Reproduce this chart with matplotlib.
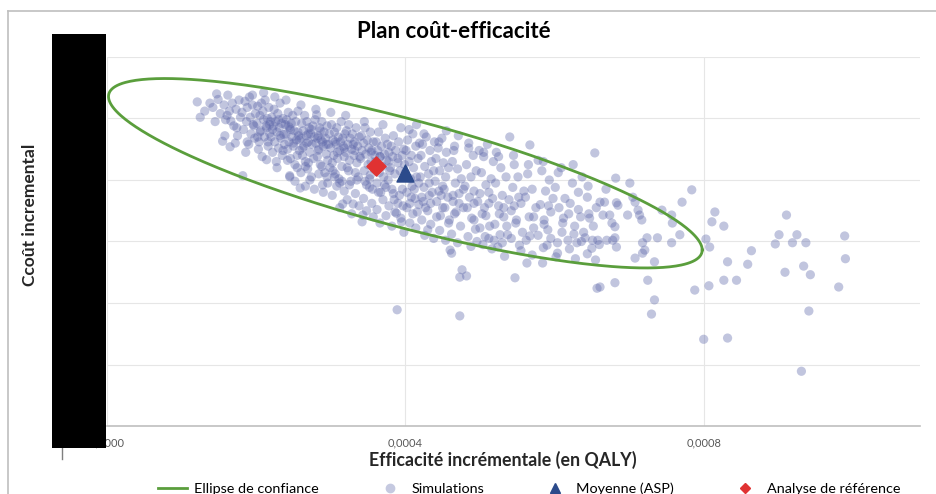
import numpy as np
import matplotlib
matplotlib.use("Agg")
import matplotlib.pyplot as plt
from matplotlib.lines import Line2D
from matplotlib.patches import Rectangle

plt.rcParams['font.family'] = ['Lato', 'DejaVu Sans']

title = "Plan coût-efficacité"
x_label = "Efficacité incrémentale (en QALY)"
y_label = "Ccoût incremental"
x_ticks = [0.0, 0.0004, 0.0008]
x_tick_labels = ["0,0000", "0,0004", "0,0008"]
y_grid = [1, 2, 3, 4, 5, 6]
legend_labels = ["Ellipse de confiance", "Simulations", "Moyenne (ASP)", "Analyse de référence"]

# simulations: incremental effect (in 1e-4 QALY) and incremental cost (hidden units)
sim_eff_e4 = [
    1.21, 1.25, 1.31, 1.38,
    1.42, 1.45, 1.49, 1.52, 1.55, 1.57, 1.59, 1.47,
    1.62, 1.65, 1.68, 1.61, 1.70, 1.73, 1.75, 1.77, 1.66, 1.79, 1.72, 1.64,
    1.81, 1.82, 1.85, 1.83, 1.87, 1.88, 1.90, 1.92, 1.93, 1.95, 1.96, 1.98, 1.99, 1.86, 1.91, 1.97,
    2.01, 2.02, 2.04, 2.05, 2.06, 2.08, 2.09, 2.10, 2.11, 2.12, 2.14, 2.14, 2.15, 2.16, 2.17, 2.18, 2.19, 2.03, 2.07, 2.13,
    2.20, 2.21, 2.22, 2.23, 2.24, 2.25, 2.26, 2.27, 2.28, 2.29, 2.30, 2.31, 2.32, 2.33, 2.34, 2.35, 2.36, 2.37, 2.38, 2.39, 2.22, 2.30,
    2.40, 2.41, 2.42, 2.43, 2.44, 2.45, 2.45, 2.46, 2.47, 2.48, 2.49, 2.50, 2.51, 2.52, 2.53, 2.54, 2.55, 2.56, 2.57, 2.58, 2.59, 2.43, 2.50, 2.56,
    2.60, 2.61, 2.62, 2.63, 2.64, 2.65, 2.66, 2.67, 2.68, 2.69, 2.70, 2.71, 2.72, 2.73, 2.74, 2.75, 2.76, 2.77, 2.78, 2.79, 2.62, 2.68, 2.74, 2.66,
    2.80, 2.81, 2.82, 2.83, 2.84, 2.85, 2.86, 2.87, 2.88, 2.89, 2.90, 2.91, 2.92, 2.93, 2.94, 2.95, 2.96, 2.97, 2.98, 2.99, 2.83, 2.89, 2.95, 2.86,
    3.00, 3.01, 3.02, 3.03, 3.04, 3.05, 3.06, 3.07, 3.08, 3.09, 3.10, 3.11, 3.12, 3.13, 3.14, 3.15, 3.16, 3.17, 3.18, 3.19, 3.03, 3.09, 3.16, 3.12,
    3.20, 3.21, 3.22, 3.23, 3.24, 3.25, 3.26, 3.27, 3.28, 3.29, 3.30, 3.31, 3.32, 3.33, 3.34, 3.35, 3.36, 3.37, 3.38, 3.39, 3.24, 3.32,
    3.40, 3.41, 3.42, 3.43, 3.44, 3.45, 3.46, 3.47, 3.48, 3.49, 3.50, 3.51, 3.52, 3.53, 3.54, 3.55, 3.56, 3.57, 3.58, 3.59, 3.45, 3.53,
    3.60, 3.61, 3.62, 3.63, 3.64, 3.65, 3.66, 3.67, 3.68, 3.69, 3.70, 3.71, 3.72, 3.73, 3.74, 3.75, 3.76, 3.77, 3.78, 3.79,
    3.80, 3.81, 3.82, 3.83, 3.84, 3.85, 3.86, 3.87, 3.88, 3.89, 3.90, 3.91, 3.92, 3.93, 3.94, 3.95, 3.96, 3.97, 3.98, 3.99,
    4.00, 4.01, 4.02, 4.03, 4.05, 4.06, 4.07, 4.08, 4.09, 4.10, 4.11, 4.13, 4.14, 4.15, 4.16, 4.17, 4.18, 4.19,
    4.20, 4.21, 4.22, 4.23, 4.25, 4.26, 4.27, 4.28, 4.30, 4.31, 4.32, 4.33, 4.34, 4.35, 4.36, 4.38, 4.39,
    4.40, 4.41, 4.42, 4.44, 4.45, 4.46, 4.47, 4.49, 4.50, 4.51, 4.53, 4.54, 4.55, 4.57, 4.58, 4.59,
    4.60, 4.62, 4.63, 4.64, 4.66, 4.67, 4.68, 4.70, 4.71, 4.72, 4.73, 4.73, 4.75, 4.76, 4.78,
    4.80, 4.82, 4.82, 4.83, 4.85, 4.86, 4.88, 4.89, 4.91, 4.92, 4.94, 4.95, 4.97, 4.99,
    5.00, 5.02, 5.03, 5.05, 5.07, 5.08, 5.10, 5.12, 5.13, 5.15, 5.17, 5.18, 5.19,
    5.21, 5.22, 5.24, 5.25, 5.27, 5.28, 5.30, 5.32, 5.33, 5.35, 5.37, 5.39,
    5.40, 5.42, 5.44, 5.46, 5.47, 5.49, 5.51, 5.53, 5.55, 5.57, 5.59,
    5.61, 5.63, 5.64, 5.66, 5.67, 5.67, 5.70, 5.72, 5.75, 5.78,
    5.81, 5.83, 5.84, 5.86, 5.88, 5.90, 5.91, 5.93, 5.95, 5.98,
    6.01, 6.04, 6.04, 6.06, 6.09, 6.11, 6.14, 6.18, 6.19,
    6.21, 6.24, 6.27, 6.30, 6.32, 6.35, 6.37, 6.39,
    6.41, 6.44, 6.47, 6.50, 6.51, 6.54, 6.56, 6.57, 6.58, 6.45,
    6.82, 7.01, 6.69, 6.61, 6.67, 6.83, 6.85, 7.05, 7.08, 7.12,
    7.14, 7.17, 6.98, 6.74, 6.65, 6.77, 6.81, 6.81, 6.70, 6.83,
    6.78, 7.44, 7.57, 7.58, 7.71, 7.84, 7.68, 7.24, 7.38, 7.57,
    7.18, 7.21, 7.18, 7.08, 7.34, 7.25, 6.81, 6.61, 7.88, 7.34,
    7.30, 8.03, 8.08, 8.15, 8.11, 8.27, 8.07, 8.32, 8.44, 8.27,
    8.64, 8.59, 8.00, 8.32, 9.11, 9.01, 9.25, 8.96, 9.19, 9.37,
    9.09, 9.34, 9.43, 9.81, 9.41, 9.31, 9.89, 9.90,
]
sim_cost = [
    5.27, 5.02, 5.12, 5.25,
    5.18, 4.95, 5.31, 5.08, 4.63, 5.22, 4.98, 5.40,
    5.38, 4.54, 5.25, 5.05, 4.88, 5.15, 4.72, 5.30, 4.96, 5.02, 4.60, 5.12,
    5.10, 4.07, 5.28, 4.82, 4.95, 5.18, 4.58, 5.02, 4.75, 5.22, 4.90, 4.68, 5.08, 4.45, 5.35, 4.88,
    4.92, 5.20, 4.62, 5.05, 4.80, 4.38, 5.12, 4.98, 4.70, 5.30, 4.33, 4.85, 5.00, 4.55, 5.18, 4.76, 4.95, 4.50, 5.25, 4.88,
    4.70, 5.02, 4.45, 4.88, 5.15, 4.62, 4.95, 4.30, 4.78, 5.08, 4.52, 4.85, 5.25, 4.68, 4.92, 4.40, 5.00, 4.74, 4.58, 4.90, 4.82, 4.98,
    4.75, 4.98, 4.50, 5.10, 4.62, 4.07, 4.85, 4.35, 4.92, 4.70, 5.05, 4.55, 4.80, 4.25, 4.95, 4.65, 4.40, 5.12, 4.72, 4.48, 3.87, 4.88, 4.60, 4.78,
    4.68, 4.92, 4.40, 4.80, 4.55, 5.05, 4.30, 4.72, 4.95, 4.18, 4.62, 4.85, 4.45, 4.75, 4.05, 4.58, 4.88, 4.35, 4.70, 4.98, 4.52, 4.60, 4.82, 4.22,
    4.60, 5.06, 4.38, 4.72, 4.50, 4.85, 4.25, 4.65, 4.95, 3.92, 4.55, 4.78, 4.12, 4.68, 4.42, 4.88, 4.32, 4.58, 4.75, 4.20, 4.48, 4.62, 4.05, 4.80,
    4.52, 4.90, 4.28, 4.65, 4.40, 4.78, 4.10, 4.58, 4.85, 4.35, 4.70, 4.02, 4.48, 4.62, 4.95, 4.22, 3.61, 4.55, 4.38, 4.75, 4.15, 4.45, 4.68, 3.95,
    4.45, 4.80, 4.20, 4.58, 4.90, 4.32, 4.68, 3.98, 4.50, 4.75, 3.61, 4.40, 4.62, 4.12, 4.85, 4.28, 4.55, 4.05, 4.70, 4.38, 4.15, 4.48,
    4.35, 4.72, 3.32, 3.43, 4.60, 4.15, 4.85, 4.42, 3.92, 4.65, 4.25, 4.52, 4.02, 4.78, 4.30, 4.48, 3.85, 4.62, 4.18, 4.40, 4.95, 4.08,
    4.30, 4.62, 3.95, 4.48, 4.78, 4.12, 4.38, 3.80, 4.55, 4.22, 4.90, 4.05, 4.42, 4.68, 3.88, 4.32, 4.58, 4.00, 4.45, 4.15,
    4.20, 4.55, 3.85, 4.38, 4.72, 3.68, 4.10, 4.48, 3.46, 1.89, 4.28, 4.62, 3.75, 4.15, 4.85, 3.32, 4.40, 3.58, 4.50, 4.25,
    4.12, 4.48, 3.80, 4.65, 4.30, 3.62, 4.02, 4.40, 3.90, 4.75, 4.20, 3.70, 4.55, 4.05, 3.48, 4.35, 3.95, 4.60,
    4.05, 4.40, 3.72, 4.58, 3.88, 4.22, 3.55, 4.70, 3.19, 4.10, 3.95, 4.48, 3.62, 4.30, 3.80, 4.15, 4.62,
    3.98, 4.35, 3.65, 4.52, 3.82, 4.15, 3.42, 4.68, 3.90, 4.28, 3.55, 4.05, 4.45, 3.72, 4.20, 3.35,
    2.86, 2.81, 4.30, 3.75, 4.55, 3.95, 3.48, 4.18, 4.72, 3.62, 2.42, 1.79, 4.02, 2.54, 3.85,
    3.90, 2.44, 4.25, 3.55, 4.60, 3.72, 4.05, 3.38, 4.40, 3.82, 3.20, 4.15, 3.65, 4.48,
    3.78, 4.12, 3.45, 4.38, 3.08, 3.92, 4.58, 3.62, 3.25, 4.02, 3.70, 4.30, 3.02,
    3.95, 4.45, 2.91, 3.58, 3.11, 4.20, 3.75, 3.40, 2.76, 4.05, 3.11, 3.68,
    4.70, 3.50, 3.88, 4.25, 2.41, 3.35, 4.05, 2.94, 3.62, 3.15, 3.82,
    3.72, 2.65, 4.10, 3.40, 4.57, 3.09, 3.85, 3.22, 3.55, 4.32,
    3.60, 4.15, 2.65, 3.35, 3.82, 2.94, 3.19, 4.00, 3.48, 3.70,
    3.88, 2.98, 2.81, 3.55, 4.20, 3.30, 3.70, 3.02, 3.45,
    3.62, 3.95, 3.25, 2.98, 3.80, 3.40, 4.05, 3.15,
    3.06, 3.72, 3.38, 2.89, 3.02, 4.44, 3.55, 2.24, 3.02, 3.90,
    4.03, 3.95, 3.85, 3.64, 3.64, 3.63, 3.59, 3.72, 3.64, 3.51,
    3.43, 3.35, 3.43, 3.43, 3.43, 3.30, 3.24, 3.06, 3.02, 2.91,
    3.02, 3.51, 3.43, 3.30, 3.64, 3.84, 3.11, 3.06, 3.06, 2.98,
    2.98, 2.86, 2.81, 2.73, 2.67, 2.37, 2.33, 2.26, 2.21, 2.05,
    1.82, 3.04, 2.91, 3.48, 3.32, 3.25, 2.28, 2.67, 2.37, 2.37,
    2.85, 2.63, 1.41, 1.43, 3.43, 3.11, 3.11, 2.96, 2.98, 2.98,
    2.50, 2.60, 2.46, 2.26, 1.87, 0.89, 3.09, 2.72,
]
# further simulations read from the denser parts of the cloud
sim2_eff_e4 = [
    2.45, 2.52, 2.60, 2.66, 2.72, 2.78, 2.84, 2.90, 2.96, 2.55, 2.70, 2.88,
    3.02, 3.08, 3.12, 3.18, 3.22, 3.28, 3.33, 3.38, 3.44, 3.48, 3.52, 3.57, 3.05, 3.15, 3.25, 3.35, 3.46, 3.55,
    3.62, 3.66, 3.70, 3.74, 3.78, 3.82, 3.86, 3.90, 3.94, 3.98, 4.02, 4.06, 4.10, 4.14, 4.18, 3.64, 3.72, 3.84, 3.96, 4.08,
    4.22, 4.26, 4.30, 4.34, 4.38, 4.42, 4.46, 4.50, 4.54, 4.58, 4.62, 4.66, 4.70, 4.74, 4.78, 4.24, 4.48, 4.64,
    4.84, 4.88, 4.92, 4.96, 5.00, 5.04, 5.08, 5.12, 5.16, 5.20, 5.26, 5.30, 5.36, 5.42, 5.48,
    4.05, 4.25, 4.45, 4.65, 4.85, 5.05, 5.25, 5.45, 5.65, 5.85, 6.05, 6.25, 4.15, 4.55,
    4.12, 4.32, 4.52, 4.72, 4.92, 5.12, 5.32, 5.52, 5.72, 5.92, 6.12, 6.32, 6.52, 5.06, 5.46, 5.86, 6.26, 6.46,
    5.55, 5.62, 5.70, 5.78, 5.85, 5.95, 6.02, 6.10, 6.20, 6.28, 6.36, 6.44, 6.55, 6.60,
    1.58, 1.74, 1.88, 2.02, 2.16, 2.28, 2.36, 2.42, 1.95, 2.10, 2.25, 2.40, 2.60, 2.80, 3.00, 3.20,
    2.05, 2.18, 2.32, 2.46, 2.58, 2.70, 2.82, 2.94, 3.06, 3.18, 3.30, 3.42, 3.54, 3.66, 3.78, 3.90,
]
sim2_cost = [
    4.05, 3.98, 4.12, 3.90, 4.00, 3.85, 4.10, 3.80, 3.95, 4.20, 4.28, 4.22,
    3.75, 3.90, 3.55, 3.82, 3.68, 3.45, 3.78, 3.58, 3.70, 3.50, 3.88, 3.40, 4.05, 3.98, 3.92, 4.00, 3.98, 3.62,
    3.52, 3.30, 3.68, 3.42, 3.58, 3.25, 3.48, 3.62, 3.38, 3.15, 3.55, 3.30, 3.45, 3.22, 3.60, 3.80, 3.92, 3.78, 3.85, 3.72,
    3.35, 3.10, 3.50, 3.28, 3.05, 3.40, 3.18, 3.55, 3.02, 3.30, 3.12, 3.45, 2.98, 3.25, 3.55, 3.65, 3.75, 3.65,
    3.08, 2.92, 3.35, 3.00, 3.22, 2.95, 3.42, 3.05, 2.88, 3.28, 3.45, 2.98, 3.25, 3.05, 3.30,
    4.82, 4.75, 4.62, 4.48, 4.52, 4.45, 4.38, 4.40, 4.25, 4.30, 4.12, 4.25, 4.90, 4.80,
    3.85, 3.75, 3.85, 3.78, 3.62, 3.80, 3.55, 3.72, 3.40, 3.58, 3.38, 3.52, 3.25, 3.55, 3.58, 3.28, 3.12, 3.45,
    2.85, 3.02, 2.78, 3.10, 2.90, 3.05, 2.75, 3.15, 2.88, 2.72, 3.00, 2.80, 2.70, 2.95,
    4.72, 4.85, 4.62, 4.70, 4.62, 4.20, 4.48, 4.32, 5.38, 5.42, 5.35, 5.30, 5.22, 5.15, 5.10, 5.05,
    4.78, 4.90, 4.72, 4.82, 4.65, 4.75, 4.68, 4.58, 4.62, 4.52, 4.58, 4.48, 4.45, 4.38, 4.30, 4.35,
]

mean_eff, mean_cost = 0.000400, 4.11
ref_eff, ref_cost = 0.000361, 4.23
ell_half_eff, ell_half_cost, ell_corr = 0.000398, 1.54, -0.81

x_max = 0.00109
y_max = 6

fig = plt.figure(figsize=(9.36, 4.94), dpi=100)
ax = fig.add_axes([107/936, 1-426/494, (920-107)/936, (426-57)/494])

sim_eff = np.array(sim_eff_e4 + sim2_eff_e4) * 1e-4
sim_c = np.array(sim_cost + sim2_cost)
ax.scatter(sim_eff, sim_c, s=44, color='#5d67aa', alpha=0.38, edgecolors='none', zorder=2)

t = np.linspace(0, 2*np.pi, 400)
ex = mean_eff + ell_half_eff*np.cos(t)
ey = mean_cost + ell_half_cost*(ell_corr*np.cos(t) + np.sqrt(1-ell_corr**2)*np.sin(t))
ax.plot(ex, ey, color='#5a9e3c', lw=2.0, zorder=3)

ax.scatter([mean_eff], [mean_cost], marker='^', s=150, color='#2b4a8b', zorder=4)
ax.scatter([ref_eff], [ref_cost], marker='D', s=95, color='#e03232', zorder=4)

ax.set_xlim(0, x_max)
ax.set_ylim(0, y_max)
ax.set_xticks(x_ticks)
ax.set_xticklabels(x_tick_labels, fontsize=8, color='#595959')
ax.set_yticks(y_grid)
ax.set_yticklabels([])
ax.tick_params(length=0, pad=8)
ax.grid(True, color='#e6e6e6', lw=0.8, zorder=0)
ax.set_axisbelow(True)
for s in ['top', 'right', 'left']:
    ax.spines[s].set_visible(False)
ax.spines['bottom'].set_color('#bfbfbf')
ax.spines['bottom'].set_linewidth(1.2)

fig.text(454/936, 1-31/494, title, ha='center', va='center', fontsize=16, fontweight='bold', color='#000000')
fig.text(503/936, 1-460/494, x_label, ha='center', va='center', fontsize=12.8, fontweight='bold', color='#262626')
fig.text(30/936, 1-215/494, y_label, ha='center', va='center', rotation=90, fontsize=12.5, fontweight='bold', color='#262626')

# chart border
fig.add_artist(Line2D([8/936, 1], [1-11/494, 1-11/494], color='#bfbfbf', lw=1.2))
fig.add_artist(Line2D([8/936, 8/936], [0, 1-11/494], color='#bfbfbf', lw=1.2))
# small leftover tick
fig.add_artist(Line2D([62/936, 62/936], [1-459/494, 1-448/494], color='#7f7f7f', lw=1))
# masking block
fig.add_artist(Rectangle((52/936, 1-448/494), 54/936, 414/494, facecolor='black', edgecolor='none', zorder=10))

handles = [
    Line2D([], [], color='#5a9e3c', lw=2),
    Line2D([], [], marker='o', ls='none', markersize=6, color='#c5c9e0'),
    Line2D([], [], marker='^', ls='none', markersize=7, color='#2b4a8b'),
    Line2D([], [], marker='D', ls='none', markersize=5.5, color='#e03232'),
]
fig.legend(handles, legend_labels, loc='center', bbox_to_anchor=(529/936, 1-489/494), ncol=4,
           frameon=False, fontsize=10.4, handlelength=2.0, columnspacing=3.9, handletextpad=0.5,
           labelcolor='#000000')

fig.savefig('out.png', dpi=100)
